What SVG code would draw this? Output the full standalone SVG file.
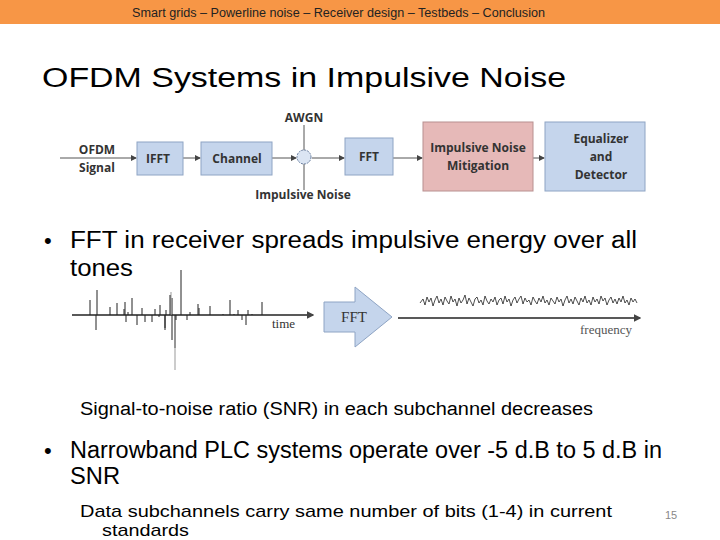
<svg xmlns="http://www.w3.org/2000/svg" width="720" height="540" viewBox="0 0 720 540">
<defs>
<style>
.s{font-family:"Liberation Sans",Arial,sans-serif}
.c{font-family:"Open Sans","Liberation Sans",sans-serif;font-weight:bold;font-size:12px;fill:#333;text-anchor:middle}
.box{fill:#c5d5ec;stroke:#8ea4c4;stroke-width:1}
.ln{stroke:#555;stroke-width:1;fill:none}
.sp{stroke:#222;stroke-width:1}
</style>
<marker id="a" markerWidth="6" markerHeight="6" refX="5" refY="3" orient="auto"><path d="M0,0L6,3L0,6z" fill="#444"/></marker>
</defs>
<rect width="720" height="540" fill="#fff"/>
<rect width="720" height="24" fill="#f79646"/>
<text x="132" y="17" class="s" font-size="12" textLength="413" lengthAdjust="spacingAndGlyphs" fill="#222">Smart grids – Powerline noise – Receiver design – Testbeds – Conclusion</text>
<text x="42" y="87" class="s" font-size="27" textLength="524" lengthAdjust="spacingAndGlyphs" fill="#000">OFDM Systems in Impulsive Noise</text>
<g id="connectors">
<line x1="60" y1="158" x2="136" y2="158" class="ln" marker-end="url(#a)"/>
<line x1="183" y1="158" x2="200" y2="158" class="ln" marker-end="url(#a)"/>
<line x1="272" y1="158" x2="296" y2="158" class="ln" marker-end="url(#a)"/>
<line x1="304" y1="125" x2="304" y2="190" class="ln"/>
<line x1="312" y1="158" x2="344" y2="158" class="ln" marker-end="url(#a)"/>
<line x1="393" y1="158" x2="422" y2="158" class="ln" marker-end="url(#a)"/>
<line x1="533" y1="158" x2="544" y2="158" class="ln" marker-end="url(#a)"/>
</g>
<g id="ofdm"><text x="97" y="154" class="c">OFDM</text><text x="97" y="172" class="c">Signal</text></g>
<g id="ifft"><rect x="137" y="142" width="46" height="33" class="box"/><text x="158" y="163" class="c">IFFT</text></g>
<g id="channel"><rect x="201" y="142" width="71" height="33" class="box"/><text x="237" y="163" class="c">Channel</text></g>
<g id="sum"><circle cx="304" cy="157" r="7" fill="#dbe5f3" stroke="#6a7fa0" stroke-dasharray="2,1"/><text x="304" y="122" class="c">AWGN</text><text x="303" y="199" class="c">Impulsive Noise</text></g>
<g id="fft"><rect x="345" y="138" width="48" height="37" class="box"/><text x="369" y="161" class="c">FFT</text></g>
<g id="inm"><rect x="423" y="122" width="110" height="69" fill="#e6b9b8" stroke="#b89090"/><text x="478" y="152" class="c">Impulsive Noise</text><text x="478" y="170" class="c">Mitigation</text></g>
<g id="eq"><rect x="545" y="122" width="100" height="69" class="box"/><text x="601" y="143" class="c">Equalizer</text><text x="601" y="161" class="c">and</text><text x="601" y="179" class="c">Detector</text></g>
<text x="44" y="248" class="s" font-size="22">•</text>
<text x="70" y="248" class="s" font-size="23" textLength="567" lengthAdjust="spacingAndGlyphs">FFT in receiver spreads impulsive energy over all</text>
<text x="70" y="276" class="s" font-size="23" textLength="63" lengthAdjust="spacingAndGlyphs">tones</text>
<g id="time">
<line x1="72" y1="315" x2="313" y2="315" stroke="#222" stroke-width="1.3" marker-end="url(#a)"/>
<path class="sp" d="M90,315V300M97,315V290M96,315V330M110,315V307M117,315V303M124,315V309M125,315V302M128,315V312M132,315V298M126,315V322M137,315V325M142,315V308M145,315V322M155,315V309M152,315V322M159,315V317M160,315V305M165,315V330M176,315V320M166,315V310M172,315V298M175,315V348M187,315V320M190,315V312M198,315V304M199,315V308M165,315V328M210,315V306M223,315V314M234,315V314M238,315V310M242,315V320M230,315V300M246,315V325M252,315V314M262,315V302M248,315V310"/>
<path stroke="#999" stroke-width="1" d="M175,330V370M171,315V292"/>
<path class="sp" d="M170,315V295M181,315V270M172,315V340"/>
<text x="272" y="328" font-family="Liberation Serif,serif" font-size="13" fill="#333">time</text>
</g>
<g id="fftarrow"><path d="M324,302H355V287L392,317L355,347V332H324Z" fill="#c5d5ec" stroke="#8ea4c4"/><text x="354" y="322" font-family="Liberation Serif,serif" font-size="15" text-anchor="middle" fill="#333">FFT</text></g>
<g id="freq">
<line x1="398" y1="318" x2="640" y2="318" stroke="#222" stroke-width="1.3" marker-end="url(#a)"/>
<polyline fill="none" stroke="#222" stroke-width="0.8" points="420,303 423,299 425,305 427,297 429,302 431,298 433,306 435,300 437,296 439,303 441,299 443,305 445,297 447,301 449,304 451,296 453,302 455,299 457,306 459,298 461,303 463,300 465,295 467,304 469,298 471,302 473,306 475,299 477,297 479,303 481,300 483,305 485,296 487,301 489,304 491,299 493,302 495,297 497,305 499,300 501,298 503,304 505,296 507,302 509,299 511,306 513,300 515,297 517,303 519,299 521,296 523,304 525,298 527,302 529,300 531,305 533,297 535,301 537,304 539,298 541,302 543,296 545,303 547,300 549,305 551,298 553,301 555,304 557,297 559,302 561,299 563,306 565,300 567,296 569,303 571,299 573,304 575,297 577,301 579,305 581,298 583,302 585,296 587,303 589,300 591,305 593,297 595,302 597,299 599,304 601,296 603,301 605,298 607,305 609,300 611,297 613,303 615,299 617,304 619,298 621,302 623,296 625,303 627,300 629,305 631,298 633,302 635,299 637,303"/>
<text x="580" y="334" font-family="Liberation Serif,serif" font-size="13" fill="#555">frequency</text>
</g>
<text x="80" y="415" class="s" font-size="18" textLength="513" lengthAdjust="spacingAndGlyphs">Signal-to-noise ratio (SNR) in each subchannel decreases</text>
<text x="44" y="458" class="s" font-size="22">•</text>
<text x="70" y="458" class="s" font-size="23" textLength="592" lengthAdjust="spacingAndGlyphs">Narrowband PLC systems operate over -5 d.B to 5 d.B in</text>
<text x="70" y="484" class="s" font-size="23" textLength="50" lengthAdjust="spacingAndGlyphs">SNR</text>
<text x="80" y="517" class="s" font-size="17" textLength="532" lengthAdjust="spacingAndGlyphs">Data subchannels carry same number of bits (1-4) in current</text>
<text x="102" y="536" class="s" font-size="17" textLength="87" lengthAdjust="spacingAndGlyphs">standards</text>
<text x="671" y="519" class="s" font-size="11" text-anchor="middle" fill="#888">15</text>
</svg>
